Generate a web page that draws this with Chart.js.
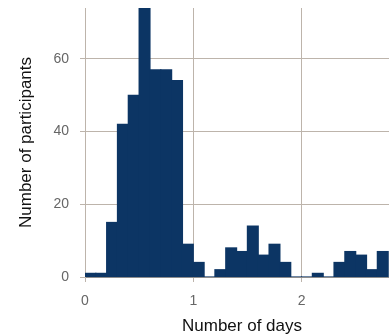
<!DOCTYPE html>
<html lang="en">
<head>
    <meta charset="UTF-8">
    <title>Number of days histogram</title>
    <script src="https://cdn.jsdelivr.net/npm/chart.js"></script>
    <style>
        html, body { margin: 0; background: #fff; overflow: hidden; }
        /* plot runs past the right edge of the window, like the cropped original */
        #wrap { width: 399px; height: 334px; }
    </style>
</head>
<body>
    <div id="wrap">
        <canvas id="myChart"></canvas>
    </div>

    <script>
        // bin centres (bin width 0.1 day)
        let binCenters = [0.05, 0.15, 0.25, 0.35, 0.45, 0.55, 0.65, 0.75, 0.85, 0.95,
                          1.05, 1.15, 1.25, 1.35, 1.45, 1.55, 1.65, 1.75, 1.85, 1.95,
                          2.05, 2.15, 2.25, 2.35, 2.45, 2.55, 2.65, 2.75];
        let participants = [1, 1, 15, 42, 50, 74, 57, 57, 54, 9,
                            4, 0, 2, 8, 7, 14, 6, 9, 4, 0,
                            0, 1, 0, 4, 7, 6, 2, 7];
        let xTicks = [0, 1, 2];
        let yTicks = [0, 20, 40, 60];

        let gridColor = '#bdb4ab';
        let tickFont = { family: 'Liberation Sans, Arial, sans-serif', size: 14 };
        let titleFont = { family: 'Liberation Sans, Arial, sans-serif', size: 17, lineHeight: 1 };

        let ctx = document.getElementById('myChart').getContext('2d');
        let myChart = new Chart(ctx, {
            type: 'bar',
            data: {
                datasets: [{
                    data: binCenters.map((x, i) => ({ x: x, y: participants[i] })),
                    backgroundColor: '#0c3564',
                    borderWidth: 0,
                    inflateAmount: 0.6,
                    barPercentage: 1,
                    categoryPercentage: 1
                }]
            },
            options: {
                responsive: true,
                maintainAspectRatio: false,
                animation: false,
                layout: { padding: 0 },
                plugins: {
                    legend: { display: false },
                    tooltip: { enabled: false }
                },
                scales: {
                    x: {
                        type: 'linear',
                        min: 0,
                        max: 2.9,
                        offset: false,
                        afterBuildTicks: (scale) => {
                            scale.ticks = xTicks.map(v => ({ value: v }));
                        },
                        afterFit: (scale) => {
                            scale.height = 57;
                            scale.paddingRight = 0;
                        },
                        grid: { color: gridColor, tickLength: 5, offset: false },
                        border: { color: '#8c8c8c' },
                        ticks: { color: '#666', font: tickFont, padding: 11 },
                        title: {
                            display: true,
                            text: 'Number of days',
                            color: '#111',
                            font: titleFont,
                            padding: { top: 0, bottom: -1 }
                        }
                    },
                    y: {
                        min: 0,
                        max: 74,
                        afterBuildTicks: (scale) => {
                            scale.ticks = yTicks.map(v => ({ value: v }));
                        },
                        afterFit: (scale) => {
                            scale.width = 85;
                            scale.paddingTop = 8;
                        },
                        grid: { color: gridColor, tickLength: 5 },
                        border: { color: gridColor },
                        ticks: { color: '#666', font: tickFont, padding: 11 },
                        title: {
                            display: true,
                            text: 'Number of participants',
                            color: '#111',
                            font: titleFont,
                            padding: { top: 18, bottom: 0 }
                        }
                    }
                }
            }
        });
    </script>
</body>
</html>
